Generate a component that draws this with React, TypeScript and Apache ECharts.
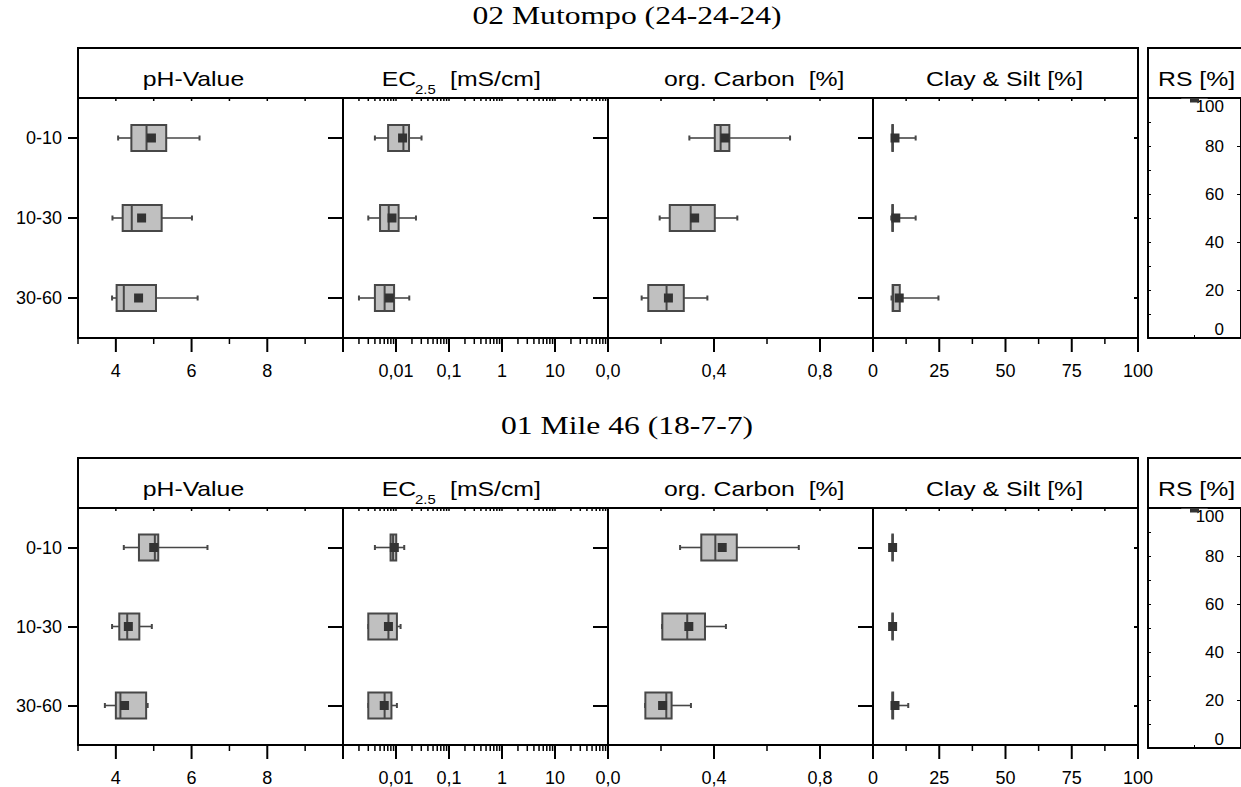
import React, { useEffect, useRef } from 'react';
import * as echarts from 'echarts';

// ---------- data ----------
const depths = ['0-10', '10-30', '30-60'];
const rsCategory = ['RS'];
const blockTitles = ['02 Mutompo (24-24-24)', '01 Mile 46 (18-7-7)'];

// each row: [low whisker, Q1, median, Q3, high whisker, mean]
const mutompoPH = [
  [4.06, 4.41, 4.81, 5.33, 6.21, 4.94],
  [3.91, 4.18, 4.42, 5.21, 6.01, 4.68],
  [3.9, 4.02, 4.21, 5.06, 6.16, 4.6],
];
const mutompoEC = [
  [0.004, 0.0071, 0.0138, 0.0176, 0.0303, 0.0133],
  [0.003, 0.005, 0.0073, 0.0112, 0.0238, 0.0084],
  [0.002, 0.004, 0.0061, 0.0092, 0.0178, 0.0075],
];
const mutompoOC = [
  [0.307, 0.403, 0.425, 0.458, 0.687, 0.442],
  [0.195, 0.233, 0.312, 0.403, 0.488, 0.327],
  [0.127, 0.152, 0.221, 0.286, 0.375, 0.228],
];
const mutompoClay = [
  [7.2, 7.3, 7.4, 7.5, 16.1, 8.3],
  [6.9, 7.3, 7.4, 7.5, 16.1, 8.6],
  [7.0, 7.4, 7.6, 10.1, 24.7, 9.9],
];
const mutompoRS = [[100, 100, 100, 100, 100, 100]];

const mile46PH = [
  [4.21, 4.61, 5.03, 5.12, 6.42, 5.0],
  [3.9, 4.09, 4.3, 4.62, 4.95, 4.33],
  [3.71, 4.0, 4.12, 4.8, 4.84, 4.23],
];
const mile46EC = [
  [0.004, 0.0079, 0.0088, 0.0101, 0.0143, 0.0093],
  [0.003, 0.003, 0.0072, 0.0104, 0.0122, 0.0072],
  [0.003, 0.003, 0.0061, 0.0082, 0.0104, 0.006],
];
const mile46OC = [
  [0.272, 0.352, 0.405, 0.486, 0.72, 0.431],
  [0.204, 0.205, 0.299, 0.366, 0.445, 0.305],
  [0.14, 0.141, 0.22, 0.24, 0.313, 0.206],
];
const mile46Clay = [
  [7.2, 7.3, 7.4, 7.5, 7.6, 7.4],
  [7.2, 7.3, 7.4, 7.5, 7.6, 7.4],
  [7.2, 7.3, 7.4, 7.6, 13.3, 8.3],
];
const mile46RS = [[100, 100, 100, 100, 100, 100]];

// tick labels / tick positions
const phTickLabels = [4, 6, 8];
const phMinorTicks = [3, 5, 7, 9, 10];
const ecTickLabels = [0.01, 0.1, 1, 10];
const ecMajorTicks = [0.001, 0.01, 0.1, 1, 10, 100];
const ecMinorTicks = [
  0.002, 0.003, 0.004, 0.005, 0.006, 0.007, 0.008, 0.009,
  0.02, 0.03, 0.04, 0.05, 0.06, 0.07, 0.08, 0.09,
  0.2, 0.3, 0.4, 0.5, 0.6, 0.7, 0.8, 0.9,
  2, 3, 4, 5, 6, 7, 8, 9,
  20, 30, 40, 50, 60, 70, 80, 90,
];
const ocTickLabels = [0, 0.4, 0.8];
const ocMinorTicks = [0.2, 0.6, 1.0];
const clayTickLabels = [0, 25, 50, 75, 100];
const clayMinorTicks = [12.5, 37.5, 62.5, 87.5];

const blockData = [
  [mutompoPH, mutompoEC, mutompoOC, mutompoClay],
  [mile46PH, mile46EC, mile46OC, mile46Clay],
];
const blockRS = [mutompoRS, mile46RS];

// ---------- styling / layout ----------
const FONT = "'Liberation Sans', Arial, Helvetica, sans-serif";
const SERIF = "'Liberation Serif', 'Times New Roman', serif";
const STROKE = '#474747';
const BOX_FILL = '#c0c0c0';
const MEAN_FILL = '#333333';
const BLOCK_DY = [0, 410];
const HEAD_TOP = 48;
const PLOT_TOP = 98;
const PLOT_H = 240;
const COL_X = [78, 343, 608, 873];
const COL_W = 265;
const RS_X = 1148;
const RS_W = 98;
const SX = 1.24;

const near = (a: number, b: number) => Math.abs(a - b) < 1e-6 * Math.max(1, Math.abs(b));
const comma = (v: number, d?: number) => (d != null ? v.toFixed(d) : String(v)).replace('.', ',');

const colDefs: any[] = [
  {
    type: 'value', min: 3, max: 10, interval: 1,
    major: phTickLabels, minor: phMinorTicks,
    fmt: (v: number) => (phTickLabels.some((l) => near(v, l)) ? String(Math.round(v)) : ''),
  },
  {
    type: 'log', min: 0.001, max: 100,
    major: ecMajorTicks, minor: ecMinorTicks,
    fmt: (v: number) => {
      const l = ecTickLabels.find((t) => Math.abs(Math.log10(v) - Math.log10(t)) < 1e-6);
      return l == null ? '' : comma(l);
    },
  },
  {
    type: 'value', min: 0, max: 1, interval: 0.2,
    major: ocTickLabels, minor: ocMinorTicks,
    fmt: (v: number) => {
      const l = ocTickLabels.find((t) => near(v, t));
      return l == null ? '' : comma(l, 1);
    },
  },
  {
    type: 'value', min: 0, max: 100, interval: 12.5,
    major: clayTickLabels, minor: clayMinorTicks,
    fmt: (v: number) => {
      const l = clayTickLabels.find((t) => near(v, t));
      return l == null ? '' : String(l);
    },
  },
];

const axisLine = { show: true, onZero: false, lineStyle: { color: '#000', width: 2 } };
const labelFont = { fontSize: 18, fontFamily: FONT, color: '#000' };

function hBox(params: any, api: any) {
  const cat = api.value(0);
  const v = [1, 2, 3, 4, 5, 6].map((i) => api.value(i));
  const c = (x: number) => api.coord([x, cat]);
  const y = c(v[2])[1];
  const [xl, x1, xm, x3, xh, xa] = v.map((x) => c(x)[0]);
  const hh = 13;
  const ls = { stroke: STROKE, lineWidth: 1.6 };
  return {
    type: 'group',
    children: [
      { type: 'line', shape: { x1: xl, y1: y, x2: x1, y2: y }, style: ls },
      { type: 'line', shape: { x1: x3, y1: y, x2: xh, y2: y }, style: ls },
      { type: 'line', shape: { x1: xl, y1: y - 2.5, x2: xl, y2: y + 2.5 }, style: { stroke: STROKE, lineWidth: 2 } },
      { type: 'line', shape: { x1: xh, y1: y - 2.5, x2: xh, y2: y + 2.5 }, style: { stroke: STROKE, lineWidth: 2 } },
      {
        type: 'rect',
        shape: { x: x1, y: y - hh, width: Math.max(x3 - x1, 0), height: 2 * hh },
        style: { fill: BOX_FILL, stroke: STROKE, lineWidth: 2 },
      },
      { type: 'line', shape: { x1: xm, y1: y - hh, x2: xm, y2: y + hh }, style: { stroke: STROKE, lineWidth: 2 } },
      { type: 'rect', shape: { x: xa - 4.5, y: y - 4.5, width: 9, height: 9 }, style: { fill: MEAN_FILL } },
    ],
  };
}

function vBox(params: any, api: any) {
  const cat = api.value(0);
  const v = [1, 2, 3, 4, 5, 6].map((i) => api.value(i));
  const c = (y: number) => api.coord([cat, y]);
  const x = c(v[2])[0];
  const [yl, y1, ym, y3, yh, ya] = v.map((y) => c(y)[1]);
  const hw = 13;
  const ls = { stroke: STROKE, lineWidth: 1.6 };
  return {
    type: 'group',
    children: [
      { type: 'line', shape: { x1: x, y1: yl, x2: x, y2: y1 }, style: ls },
      { type: 'line', shape: { x1: x, y1: y3, x2: x, y2: yh }, style: ls },
      {
        type: 'rect',
        shape: { x: x - hw, y: Math.min(y1, y3), width: 2 * hw, height: Math.abs(y1 - y3) },
        style: { fill: BOX_FILL, stroke: STROKE, lineWidth: 2 },
      },
      { type: 'line', shape: { x1: x - hw, y1: ym, x2: x + hw, y2: ym }, style: { stroke: STROKE, lineWidth: 2 } },
      { type: 'rect', shape: { x: x - 4.5, y: ya - 4.5, width: 9, height: 9 }, style: { fill: MEAN_FILL } },
    ],
  };
}

function tickRenderer(len: number, side: 'bottom' | 'top', lw: number) {
  return (params: any, api: any) => {
    const cs = params.coordSys;
    const x = api.coord([api.value(0), 0])[0];
    const y0 = side === 'bottom' ? cs.y + cs.height : cs.y;
    return {
      type: 'line',
      shape: { x1: x, y1: y0, x2: x, y2: y0 + len },
      style: { stroke: '#000', lineWidth: lw },
    };
  };
}

function headerText(x: number, y: number, text: string, size: number, align = 'left', sx = SX, family = FONT) {
  return {
    type: 'text',
    x,
    y,
    scaleX: sx,
    silent: true,
    style: {
      text,
      fontSize: size,
      fontFamily: family,
      fill: '#000',
      align,
      textAlign: align,
      verticalAlign: 'middle',
      textVerticalAlign: 'middle',
    },
  };
}

function buildOption() {
  const grid: any[] = [];
  const xAxis: any[] = [];
  const yAxis: any[] = [];
  const series: any[] = [];
  const graphic: any[] = [];

  for (let b = 0; b < 2; b++) {
    const dy = BLOCK_DY[b];
    // titles and header frames
    graphic.push(headerText(627, 16 + dy, blockTitles[b], 25, 'center', 1.265, SERIF));
    graphic.push({
      type: 'rect', silent: true,
      shape: { x: COL_X[0], y: HEAD_TOP + dy, width: COL_W * 4, height: PLOT_TOP - HEAD_TOP },
      style: { fill: 'none', stroke: '#000', lineWidth: 2 },
    });
    graphic.push({
      type: 'rect', silent: true,
      shape: { x: RS_X, y: HEAD_TOP + dy, width: RS_W + 4, height: PLOT_TOP - HEAD_TOP },
      style: { fill: 'none', stroke: '#000', lineWidth: 2 },
    });
    const hy = 79 + dy;
    graphic.push(headerText(142.7, hy, 'pH-Value', 20));
    graphic.push(headerText(381.7, hy, 'EC', 20));
    graphic.push(headerText(415, hy + 11, '2.5', 12));
    graphic.push(headerText(450, hy, '[mS/cm]', 20));
    graphic.push(headerText(664, hy, 'org. Carbon  [%]', 20));
    graphic.push(headerText(926, hy, 'Clay & Silt [%]', 20));
    graphic.push(headerText(1158, hy, 'RS [%]', 20));

    for (let c = 0; c < 4; c++) {
      const g = b * 5 + c;
      const def = colDefs[c];
      grid.push({ left: COL_X[c], top: PLOT_TOP + dy, width: COL_W, height: PLOT_H });
      const base: any = { type: def.type, min: def.min, max: def.max, gridIndex: g, splitLine: { show: false } };
      if (def.interval != null) base.interval = def.interval;
      if (def.type === 'log') base.logBase = 10;
      xAxis.push({
        ...base, position: 'bottom', axisLine, axisTick: { show: false },
        axisLabel: { ...labelFont, margin: 24, formatter: def.fmt },
      });
      xAxis.push({ ...base, position: 'top', axisLine, axisTick: { show: false }, axisLabel: { show: false } });
      yAxis.push({
        type: 'category', data: depths, inverse: true, gridIndex: g, position: 'left', axisLine,
        axisTick: c === 0 ? { show: true, alignWithLabel: true, length: 10, lineStyle: { color: '#000', width: 2 } } : { show: false },
        axisLabel: c === 0 ? { ...labelFont, margin: 16 } : { show: false },
      });
      yAxis.push({
        type: 'category', data: depths, inverse: true, gridIndex: g, position: 'right', axisLine,
        axisTick: { show: true, inside: true, alignWithLabel: true, length: c === 3 ? 4 : 15, lineStyle: { color: '#000', width: 2 } },
        axisLabel: { show: false },
      });
      const xi = 2 * g;
      const yi = 2 * g;
      series.push({
        type: 'custom', xAxisIndex: xi, yAxisIndex: yi, silent: true, z: 5,
        encode: { x: [1, 2, 3, 4, 5, 6], y: 0 },
        data: blockData[b][c].map((row: number[], i: number) => [i, ...row]),
        renderItem: hBox,
      });
      const tickSeries = (vals: number[], len: number, side: 'bottom' | 'top', lw: number) => ({
        type: 'custom', xAxisIndex: xi, yAxisIndex: yi, silent: true, z: 4,
        encode: { x: 0, y: 1 },
        data: vals.map((v) => [v, 0]),
        renderItem: tickRenderer(len, side, lw),
      });
      series.push(tickSeries(def.major, 14, 'bottom', 2));
      series.push(tickSeries(def.minor, 6, 'bottom', 1.5));
      series.push(tickSeries([...def.major, ...def.minor], 3, 'top', 1.5));
    }

    // RS panel
    const g = b * 5 + 4;
    grid.push({ left: RS_X, top: PLOT_TOP + dy, width: RS_W, height: PLOT_H });
    xAxis.push({
      type: 'category', data: rsCategory, gridIndex: g, position: 'bottom', axisLine,
      axisTick: { show: true, inside: true, alignWithLabel: true, length: 3, lineStyle: { color: '#000' } },
      axisLabel: { show: false },
    });
    xAxis.push({
      type: 'category', data: rsCategory, gridIndex: g, position: 'top', axisLine,
      axisTick: { show: false }, axisLabel: { show: false },
    });
    yAxis.push({
      type: 'value', min: 0, max: 100, interval: 10, gridIndex: g, position: 'left', axisLine,
      axisTick: { show: true, inside: true, length: 3, lineStyle: { color: '#000' } },
      axisLabel: { show: false }, splitLine: { show: false },
    });
    yAxis.push({
      type: 'value', min: 0, max: 100, interval: 20, gridIndex: g, position: 'right', axisLine,
      axisTick: { show: true, inside: true, length: 4, lineStyle: { color: '#000' } },
      axisLabel: {
        inside: true, margin: 17, fontSize: 17, fontFamily: FONT, color: '#000',
        verticalAlignMinLabel: 'bottom', verticalAlignMaxLabel: 'top',
      },
      splitLine: { show: false },
    });
    series.push({
      type: 'custom', xAxisIndex: 2 * g, yAxisIndex: 2 * g, silent: true, z: 5, clip: true,
      encode: { x: 0, y: [1, 2, 3, 4, 5, 6] },
      data: blockRS[b].map((row: number[], i: number) => [i, ...row]),
      renderItem: vBox,
    });
  }

  return {
    animation: false,
    backgroundColor: '#ffffff',
    textStyle: { fontFamily: FONT },
    grid,
    xAxis,
    yAxis,
    series,
    graphic: { elements: graphic },
  };
}

export default function App() {
  const ref = useRef<HTMLDivElement>(null);
  useEffect(() => {
    if (!ref.current) return;
    const chart = echarts.init(ref.current, null, { renderer: 'svg' });
    chart.setOption(buildOption() as any);
    return () => chart.dispose();
  }, []);
  return (
    <div
      ref={ref}
      style={{ position: 'fixed', left: 0, top: 0, width: 1241, height: 787, background: '#fff' }}
    />
  );
}
